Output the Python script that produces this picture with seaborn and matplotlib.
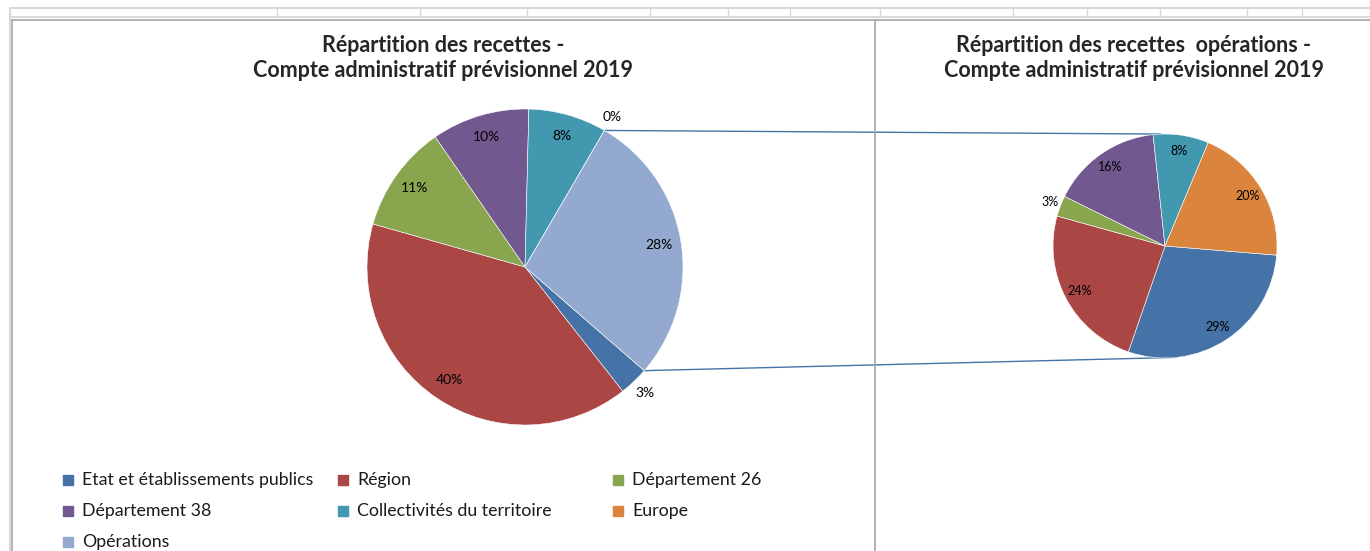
import numpy as np
import seaborn as sns
import matplotlib.pyplot as plt
from matplotlib.patches import Rectangle

# data
categories = ['Etat et établissements publics', 'Région', 'Département 26',
              'Département 38', 'Collectivités du territoire', 'Europe', 'Opérations']
recettes = [3, 40, 11, 10, 8, 0, 28]          # left pie, % of total
ops_categories = categories[:6]
recettes_ops = [29, 24, 3, 16, 8, 20]          # right pie, % of operations
colors = ['#4572A7', '#AA4643', '#89A54E', '#71588F', '#4198AF', '#DB843D', '#93A9CF']

title_left = 'Répartition des recettes -\nCompte administratif prévisionnel 2019'
title_right = 'Répartition des recettes  opérations -\nCompte administratif prévisionnel 2019'

sns.set_theme(style='white')
plt.rcParams['font.family'] = ['Lato', 'DejaVu Sans']
palette = sns.color_palette(colors)

W, H = 1370, 551
fig = plt.figure(figsize=(W / 100, H / 100), dpi=100)
ax = fig.add_axes([0, 0, 1, 1])

def py(y):
    # pixel row (from top) to data y
    return H - y

# spreadsheet background
grid = '#d9d9d9'
ax.plot([10, W], [py(8), py(8)], color=grid, lw=1.5)
ax.plot([10, W], [py(17), py(17)], color=grid, lw=1.5)
for cx in [277, 420, 527, 650, 728, 790, 880, 1013, 1087, 1160, 1247, 1302]:
    ax.plot([cx, cx], [py(8), py(17)], color=grid, lw=1)
ax.plot([10, 10], [py(8), 0], color=grid, lw=1.5)
frame = '#a6a6a6'
ax.plot([12, W], [py(20), py(20)], color=frame, lw=1.2)
ax.plot([12, 12], [py(20), 0], color=frame, lw=1.2)
ax.plot([875, 875], [py(20), 0], color=frame, lw=1.2)

# left pie
c1, r1 = (525, py(267)), 158
w1, _ = ax.pie(recettes, colors=palette, startangle=-41, counterclock=False,
               center=c1, radius=r1, frame=True,
               wedgeprops=dict(edgecolor='white', linewidth=0.4))
# right pie
c2, r2 = (1165, py(246)), 112
w2, _ = ax.pie(recettes_ops, colors=palette[:6], startangle=-4.7, counterclock=False,
               center=c2, radius=r2, frame=True,
               wedgeprops=dict(edgecolor='white', linewidth=0.4))

def put_labels(wedges, values, c, r, size):
    for w, v in zip(wedges, values):
        mid = np.deg2rad((w.theta1 + w.theta2) / 2)
        d = r * (1.1 if v < 5 else 0.86)
        ax.text(c[0] + d * np.cos(mid), c[1] + d * np.sin(mid), f'{v:.0f}%',
                ha='center', va='center', fontsize=size, color='black')

put_labels(w1, recettes, c1, r1, 10)
put_labels(w2, recettes_ops, c2, r2, 9)

# connector lines from the "Opérations" slice to the secondary pie
ops = w1[-1]
for ang1, ang2 in [(ops.theta2, 92), (ops.theta1, -84)]:
    a1, a2 = np.deg2rad(ang1), np.deg2rad(ang2)
    ax.plot([c1[0] + r1 * np.cos(a1), c2[0] + r2 * np.cos(a2)],
            [c1[1] + r1 * np.sin(a1), c2[1] + r2 * np.sin(a2)],
            color='#4572A7', lw=1, zorder=0.5)

# titles
ax.text(443, py(58), title_left, ha='center', va='center', fontsize=15.5,
        fontweight='bold', linespacing=1.2)
ax.text(1134, py(58), title_right, ha='center', va='center', fontsize=15.5,
        fontweight='bold', linespacing=1.2)

# legend, laid out like the spreadsheet one (3 equal columns)
for i, (name, col) in enumerate(zip(categories, palette)):
    x = 63 + (i % 3) * 275
    y = py(480 + (i // 3) * 31)
    ax.add_patch(Rectangle((x, y - 5), 10, 10, color=col))
    ax.text(x + 19, y, name, ha='left', va='center', fontsize=12.8, color='#1a1a1a')

ax.set_xlim(0, W)
ax.set_ylim(0, H)
ax.set_aspect('equal')
ax.axis('off')
fig.savefig('out.png', dpi=100, facecolor='white')
